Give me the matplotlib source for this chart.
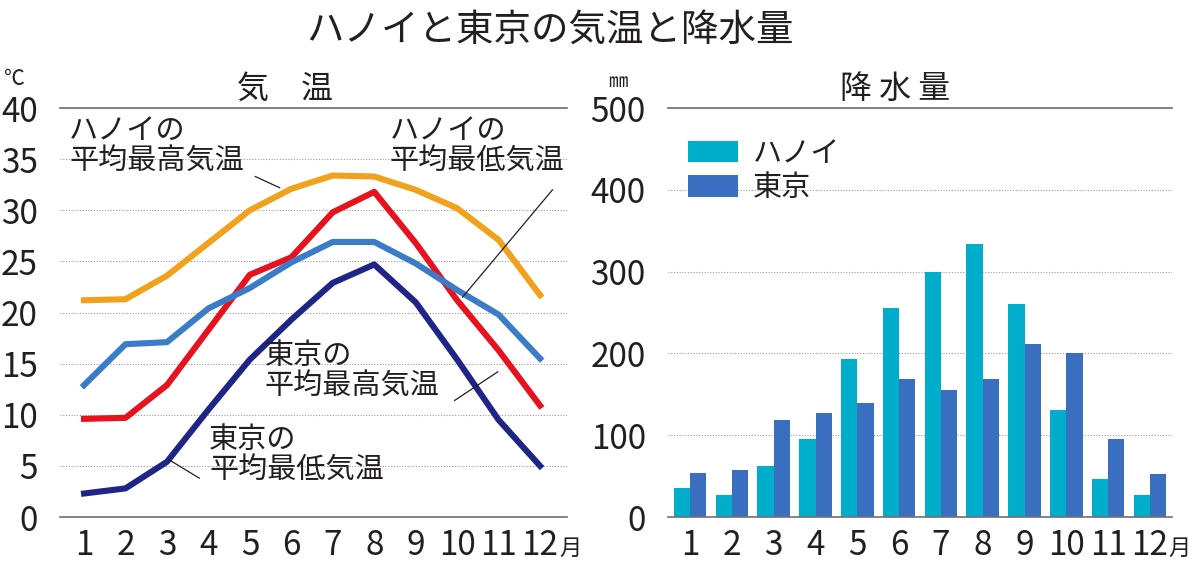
import numpy as np
import matplotlib
matplotlib.use("Agg")
import matplotlib.pyplot as plt

plt.rcParams['font.family'] = ['Noto Sans CJK JP', 'DejaVu Sans']
NUM_FONT = ['Liberation Sans Narrow', 'Noto Sans CJK JP']

months = np.arange(1, 13)
month_labels = [str(m) for m in months]

# temperatures (deg C)
hanoi_max = [21.2, 21.3, 23.6, 26.8, 30.0, 32.1, 33.4, 33.3, 32.0, 30.2, 27.1, 21.7]
hanoi_min = [12.9, 16.9, 17.1, 20.4, 22.4, 24.9, 26.9, 26.9, 24.8, 22.2, 19.8, 15.5]
tokyo_max = [9.6, 9.7, 12.9, 18.3, 23.7, 25.4, 29.8, 31.8, 26.8, 21.2, 16.3, 10.9]
tokyo_min = [2.3, 2.8, 5.4, 10.5, 15.4, 19.3, 22.9, 24.7, 21.0, 15.4, 9.5, 5.0]

# precipitation (mm)
hanoi_rain = [36, 27, 62, 95, 193, 256, 300, 334, 260, 131, 46, 27]
tokyo_rain = [54, 58, 119, 127, 139, 169, 155, 169, 212, 201, 95, 52]

TXT = '#231f20'
GRID = '#9a9a9a'

fig = plt.figure(figsize=(12, 5.73), dpi=100)
fig.text(0.458, 0.948, 'ハノイと東京の気温と降水量', ha='center', va='center',
         fontsize=27, color=TXT)


def style_axes(ax, ymax, ystep):
    ax.set_ylim(0, ymax)
    ax.set_yticks(np.arange(0, ymax + 1, ystep))
    ax.set_xticks(months)
    ax.set_xticklabels(month_labels)
    for s in ['left', 'right']:
        ax.spines[s].set_visible(False)
    ax.spines['top'].set_color('#6f6f6f')
    ax.spines['bottom'].set_color('#6f6f6f')
    ax.spines['top'].set_linewidth(1.2)
    ax.spines['bottom'].set_linewidth(1.2)
    ax.grid(axis='y', linestyle=(0, (1, 1.5)), color=GRID, linewidth=0.8)
    ax.set_axisbelow(True)
    ax.tick_params(length=0, labelsize=24, labelcolor=TXT)
    ax.tick_params(axis='y', pad=16)
    ax.tick_params(axis='x', pad=8)
    for lab in ax.get_xticklabels() + ax.get_yticklabels():
        lab.set_family(NUM_FONT)


# ---- left: temperature ----
ax1 = fig.add_axes([0.05, 0.0977, 0.4225, 0.7138])
style_axes(ax1, 40, 5)
ax1.set_xlim(0.42, 12.65)
lw = 4.4
ax1.plot(months, hanoi_max, color='#f2a11c', lw=lw)
ax1.plot(months, tokyo_max, color='#e8121f', lw=lw)
ax1.plot(months, hanoi_min, color='#3b7cc8', lw=lw)
ax1.plot(months, tokyo_min, color='#1f2586', lw=lw)

note = dict(ha='left', va='top', fontsize=21, color=TXT, linespacing=1.0)
ax1.text(0.64, 39.2, 'ハノイの\n平均最高気温', **note)
ax1.plot([5.13, 5.72], [33.3, 32.2], color=TXT, lw=0.9)
ax1.text(8.37, 39.2, 'ハノイの\n平均最低気温', **note)
ax1.plot([12.3, 10.13], [32.0, 21.5], color=TXT, lw=0.9)
ax1.text(5.35, 17.2, '東京の\n平均最高気温', **note)
ax1.plot([9.94, 10.98], [11.4, 14.2], color=TXT, lw=0.9)
ax1.text(4.02, 9.0, '東京の\n平均最低気温', **note)
ax1.plot([3.78, 3.05], [3.8, 5.6], color=TXT, lw=0.9)

fig.text(0.2375, 0.845, '気　温', ha='center', va='center', fontsize=23, color=TXT)
fig.text(0.003, 0.862, '℃', ha='left', va='center', fontsize=15, color=TXT)
fig.text(0.466, 0.043, '月', ha='left', va='center', fontsize=16, color=TXT)

# ---- right: precipitation ----
ax2 = fig.add_axes([0.5567, 0.0977, 0.42, 0.7138])
style_axes(ax2, 500, 100)
ax2.set_xlim(0.47, 12.53)
w = 0.39
ax2.bar(months - w / 2, hanoi_rain, width=w, color='#00aecb', label='ハノイ')
ax2.bar(months + w / 2, tokyo_rain, width=w, color='#3a6fc0', label='東京')
ax2.legend(loc='upper left', bbox_to_anchor=(0.0, 0.975), frameon=False,
           fontsize=21, handlelength=1.7, handleheight=0.75, labelspacing=0.15,
           handletextpad=0.5, borderaxespad=0.3, labelcolor=TXT)

fig.text(0.746, 0.845, '降 水 量', ha='center', va='center', fontsize=23, color=TXT)
fig.text(0.507, 0.857, '㎜', ha='left', va='center', fontsize=14, color=TXT)
fig.text(0.974, 0.043, '月', ha='left', va='center', fontsize=16, color=TXT)

fig.savefig('out.png', dpi=100)
